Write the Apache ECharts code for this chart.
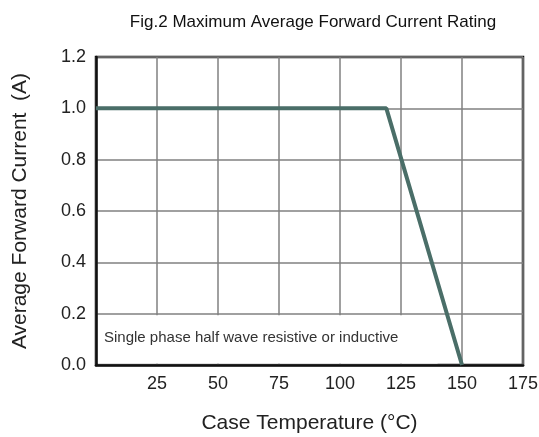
<!DOCTYPE html>
<html>
<head>
<meta charset="utf-8">
<script src="https://cdn.jsdelivr.net/npm/echarts@6/dist/echarts.min.js"></script>
<style>html,body{margin:0;padding:0;background:#fff}#c{width:539px;height:437px}</style>
</head>
<body>
<div id="c"></div>
<script>
const temperatures = [0, 119, 150];
const currents = [1.0, 1.0, 0.0];
const xTicks = [0, 25, 50, 75, 100, 125, 150, 175];
const yTicks = [0.0, 0.2, 0.4, 0.6, 0.8, 1.0, 1.2];
const titleText = 'Fig.2 Maximum Average Forward Current Rating';
const xName = 'Case Temperature (°C)';
const yName = 'Average Forward Current  (A)';
const noteText = 'Single phase half wave resistive or inductive';
const noteBoxX = [0, 140];
const noteBoxY = [0, 0.2];

const chart = echarts.init(document.getElementById('c'));
const font = 'Liberation Sans, Arial, sans-serif';
chart.setOption({
  animation: false,
  title: {
    text: titleText, left: 308, top: 9, textAlign: 'center',
    textStyle: { fontFamily: font, fontSize: 17, fontWeight: 'normal', color: '#111' }
  },
  grid: { left: 96, right: 16, top: 57, bottom: 72, outerBoundsMode: 'none', containLabel: false,
    show: true, borderColor: '#111', borderWidth: 2.5, backgroundColor: 'transparent' },
  xAxis: {
    type: 'value', min: xTicks[0], max: xTicks[xTicks.length - 1], interval: 25,
    name: xName, nameLocation: 'middle', nameGap: 48,
    nameTextStyle: { fontFamily: font, fontSize: 21, color: '#222' },
    axisLine: { show: true, lineStyle: { color: '#111', width: 2.5 } },
    axisTick: { show: false },
    axisLabel: { fontFamily: font, fontSize: 18, color: '#222', margin: 10,
      formatter: v => (v === 0 ? '' : String(v)) },
    splitLine: { show: true, lineStyle: { color: '#808080', width: 1.5 } }
  },
  yAxis: {
    type: 'value', min: yTicks[0], max: yTicks[yTicks.length - 1], interval: 0.2,
    name: yName, nameLocation: 'middle', nameGap: 65,
    nameTextStyle: { fontFamily: font, fontSize: 21, color: '#222' },
    axisLine: { show: true, lineStyle: { color: '#111', width: 2.5 } },
    axisTick: { show: false },
    axisLabel: { fontFamily: font, fontSize: 18, color: '#222', margin: 10,
      formatter: v => v.toFixed(1) },
    splitLine: { show: true, lineStyle: { color: '#808080', width: 1.5 } }
  },
  series: [{
    type: 'line',
    z: 3,
    data: temperatures.map((t, i) => [t, currents[i]]),
    symbol: 'none',
    lineStyle: { color: '#4a6e68', width: 4 }
  }]
});

const p0 = chart.convertToPixel({ gridIndex: 0 }, [noteBoxX[0], noteBoxY[0]]);
const p1 = chart.convertToPixel({ gridIndex: 0 }, [noteBoxX[1], noteBoxY[1]]);
chart.setOption({
  graphic: [{
    type: 'rect', z: 1,
    shape: { x: p0[0] + 2, y: p1[1] + 1.5, width: p1[0] - p0[0] - 2, height: p0[1] - p1[1] - 3 },
    style: { fill: '#fff' }
  }, {
    type: 'text', z: 2, left: 104, top: 330,
    style: { text: noteText, fontFamily: font, fontSize: 15, fill: '#333' }
  }]
});
</script>
</body>
</html>
